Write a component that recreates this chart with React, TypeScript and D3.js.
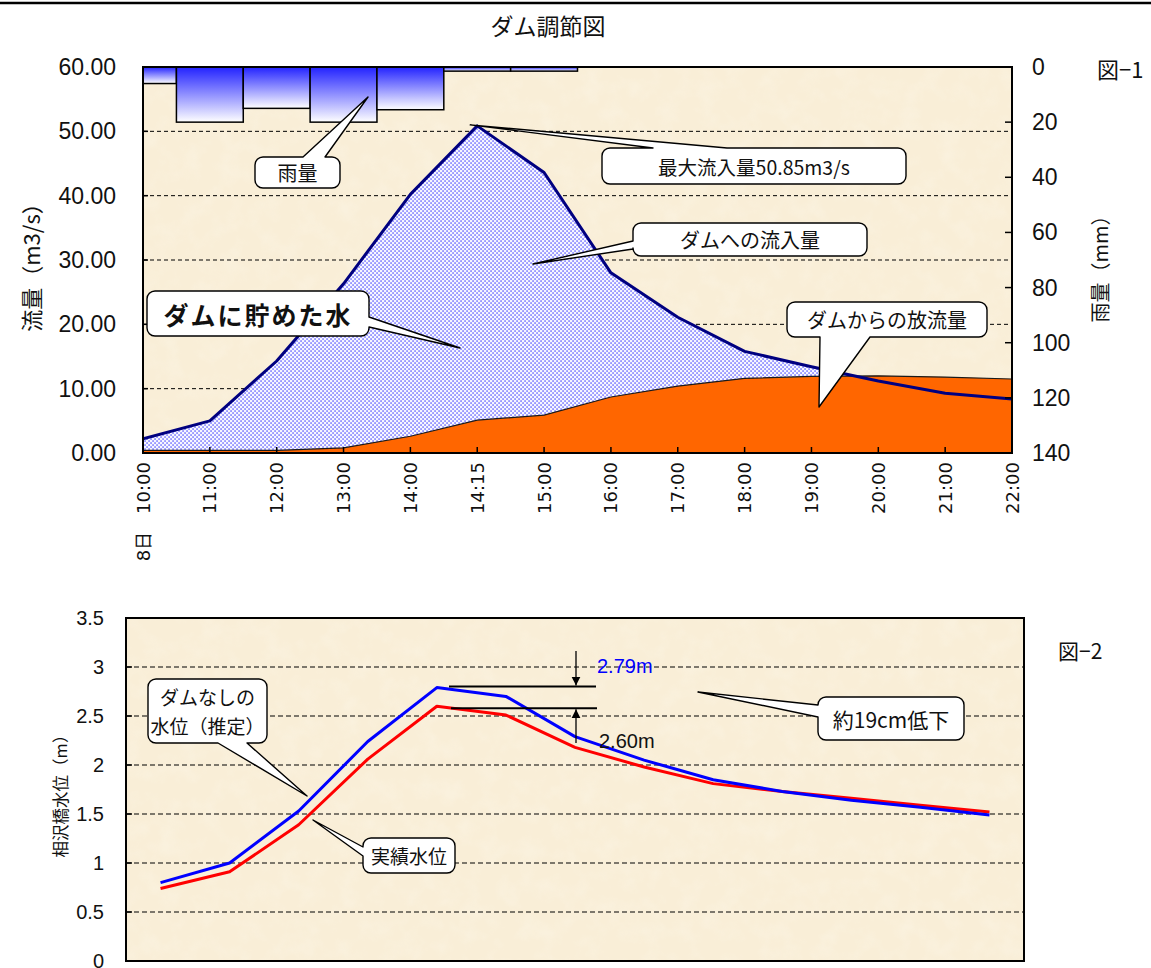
import React, { useEffect } from "react";
import * as d3 from "d3";

const W = 1151;
const H = 968;

// ---- 図-1: flow and rainfall -------------------------------------------
const flowLabels = ["8日　10:00", "11:00", "12:00", "13:00", "14:00", "14:15", "15:00", "16:00", "17:00", "18:00", "19:00", "20:00", "21:00", "22:00"];
const inflow = [2.2, 5.0, 14.3, 26.3, 40.2, 50.85, 43.6, 28.0, 21.1, 15.8, 13.4, 11.2, 9.3, 8.4];
const outflow = [0.4, 0.4, 0.4, 0.8, 2.6, 5.1, 5.9, 8.7, 10.4, 11.6, 11.9, 12.0, 11.8, 11.5];
const rainfall = [6, 20, 15, 20, 15.5, 1.5, 1.5, 0, 0, 0, 0, 0, 0, 0];
const flowTicks = [0, 10, 20, 30, 40, 50, 60];
const rainTicks = [0, 20, 40, 60, 80, 100, 120, 140];

// ---- 図-2: water level at 相沢橋 ----------------------------------------
const levelHours = ["10:00", "11:00", "12:00", "13:00", "14:00", "15:00", "16:00", "17:00", "18:00", "19:00", "20:00", "21:00", "22:00"];
const levelNoDam = [0.8, 1.0, 1.53, 2.24, 2.79, 2.7, 2.29, 2.05, 1.85, 1.73, 1.64, 1.57, 1.49];
const levelActual = [0.74, 0.91, 1.39, 2.06, 2.6, 2.51, 2.18, 1.98, 1.81, 1.73, 1.66, 1.59, 1.52];
const levelTicks = [0, 0.5, 1, 1.5, 2, 2.5, 3, 3.5];

const JP = "'Noto Sans CJK JP', 'Noto Sans', sans-serif";
const NUM = "'Liberation Sans', Arial, 'Noto Sans CJK JP', sans-serif";
const XLAB = "'DejaVu Sans', 'Noto Sans CJK JP', sans-serif";
const PAPER = "#f9eed7";

type Side = "top" | "right" | "bottom" | "left";

// rounded balloon with a wedge pointer on one side
function balloon(x: number, y: number, w: number, h: number, r: number, side: Side, b1: number, b2: number, tx: number, ty: number) {
  const p = d3.path();
  p.moveTo(x + r, y);
  if (side === "top") { p.lineTo(x + b1, y); p.lineTo(tx, ty); p.lineTo(x + b2, y); }
  p.lineTo(x + w - r, y);
  p.arcTo(x + w, y, x + w, y + r, r);
  if (side === "right") { p.lineTo(x + w, y + b1); p.lineTo(tx, ty); p.lineTo(x + w, y + b2); }
  p.lineTo(x + w, y + h - r);
  p.arcTo(x + w, y + h, x + w - r, y + h, r);
  if (side === "bottom") { p.lineTo(x + b2, y + h); p.lineTo(tx, ty); p.lineTo(x + b1, y + h); }
  p.lineTo(x + r, y + h);
  p.arcTo(x, y + h, x, y + h - r, r);
  if (side === "left") { p.lineTo(x, y + b2); p.lineTo(tx, ty); p.lineTo(x, y + b1); }
  p.lineTo(x, y + r);
  p.arcTo(x, y, x + r, y, r);
  p.closePath();
  return p.toString();
}

type BalloonProps = {
  x: number; y: number; w: number; h: number; side: Side; b1: number; b2: number; tx: number; ty: number;
  lines: string[]; size: number; bold?: boolean; spacing?: number; lineHeight?: number;
};

function Balloon({ x, y, w, h, side, b1, b2, tx, ty, lines, size, bold, spacing, lineHeight }: BalloonProps) {
  const lh = size * (lineHeight ?? 1.25);
  const y0 = y + h / 2 - ((lines.length - 1) * lh) / 2;
  return (
    <g>
      <path d={balloon(x, y, w, h, 8, side, b1, b2, tx, ty)} fill="#fff" stroke="#000" strokeWidth={1.4} strokeLinejoin="round" />
      {lines.map((t, i) => (
        <text key={i} x={x + w / 2} y={y0 + i * lh} textAnchor="middle" dominantBaseline="central"
          fontFamily={JP} fontSize={size} fontWeight={bold ? 700 : 400} letterSpacing={spacing ?? 0} fill="#111">
          {t}
        </text>
      ))}
    </g>
  );
}

export default function App() {
  useEffect(() => {
    document.body.style.margin = "0";
  }, []);

  // ---- top chart geometry
  const L1 = 143, R1 = 1012, T1 = 67, B1 = 453;
  const x1 = d3.scalePoint<string>().domain(flowLabels).range([L1, R1]);
  const yFlow = d3.scaleLinear().domain([0, 60]).range([B1, T1]);
  const yRain = d3.scaleLinear().domain([0, 140]).range([T1, B1]);
  const step = x1.step();

  const inflowArea = d3.area<number>()
    .x((_, i) => x1(flowLabels[i])!)
    .y0(yFlow(0))
    .y1((d) => yFlow(d))(inflow)!;
  const inflowLine = d3.line<number>()
    .x((_, i) => x1(flowLabels[i])!)
    .y((d) => yFlow(d))(inflow)!;
  const outflowArea = d3.area<number>()
    .x((_, i) => x1(flowLabels[i])!)
    .y0(yFlow(0))
    .y1((d) => yFlow(d))(outflow)!;
  const outflowLine = d3.line<number>()
    .x((_, i) => x1(flowLabels[i])!)
    .y((d) => yFlow(d))(outflow)!;

  // ---- bottom chart geometry
  const L2 = 126, R2 = 1024, T2 = 618, B2 = 961;
  const x2 = d3.scaleBand<string>().domain(levelHours).range([L2, R2]);
  const cx2 = (h: string) => x2(h)! + x2.bandwidth() / 2;
  const yLev = d3.scaleLinear().domain([0, 3.5]).range([B2, T2]);
  const levelLine = d3.line<number>()
    .x((_, i) => cx2(levelHours[i]))
    .y((d) => yLev(d));

  const peakIdx = levelNoDam.indexOf(d3.max(levelNoDam)!);
  const peakNoDam = levelNoDam[peakIdx];
  const peakActual = levelActual[peakIdx];
  const yHi = yLev(peakNoDam);
  const yLo = yLev(peakActual);
  const arrowX = 576;

  const maxIn = d3.max(inflow)!;
  const maxInIdx = inflow.indexOf(maxIn);

  return (
    <div style={{ position: "absolute", left: 0, top: 0, width: W, height: H, overflow: "hidden", background: "#fff" }}>
      <svg width={W} height={H} viewBox={`0 0 ${W} ${H}`} style={{ display: "block" }}>
        <defs>
          <pattern id="dots" width="4" height="4" patternUnits="userSpaceOnUse">
            <rect width="4" height="4" fill="#f7f7ff" />
            <rect x="0.4" y="0.4" width="1.3" height="1.3" fill="#3535ff" />
            <rect x="2.4" y="2.4" width="1.3" height="1.3" fill="#3535ff" />
          </pattern>
          <linearGradient id="rainGrad" x1="0" y1="0" x2="0" y2="1">
            <stop offset="0" stopColor="#2222ff" />
            <stop offset="1" stopColor="#ffffff" />
          </linearGradient>
          <filter id="paper" x="0" y="0" width="100%" height="100%">
            <feTurbulence type="fractalNoise" baseFrequency="0.05" numOctaves="3" seed="7" result="n" />
            <feColorMatrix in="n" type="matrix"
              values="0 0 0 0 1  0 0 0 0 1  0 0 0 0 0.96  0.9 0 0 0 -0.38" />
          </filter>
          <clipPath id="plot1"><rect x={L1} y={T1} width={R1 - L1} height={B1 - T1} /></clipPath>
          <clipPath id="plot2"><rect x={L2} y={T2} width={R2 - L2} height={B2 - T2} /></clipPath>
          <marker id="ah" viewBox="0 0 10 10" refX="10" refY="5" markerWidth="9" markerHeight="10" orient="auto" markerUnits="userSpaceOnUse">
            <path d="M0,0 L10,5 L0,10 Z" fill="#000" />
          </marker>
        </defs>

        {/* page rule and title */}
        <line x1={0} x2={W} y1={3} y2={3} stroke="#000" strokeWidth={2.5} />
        <text x={548} y={25} textAnchor="middle" dominantBaseline="central" fontFamily={JP} fontSize={23} fill="#111">ダム調節図</text>
        <text x={1097} y={68} dominantBaseline="central" fontFamily={JP} fontSize={22} fill="#111">図−1</text>

        {/* ================= 図-1 ================= */}
        <rect x={L1} y={T1} width={R1 - L1} height={B1 - T1} fill={PAPER} />
        <rect x={L1} y={T1} width={R1 - L1} height={B1 - T1} filter="url(#paper)" opacity={0.45} />

        {flowTicks.filter((t) => t > 0).map((t) => (
          <line key={t} x1={L1} x2={R1} y1={yFlow(t)} y2={yFlow(t)} stroke="#000" strokeWidth={1} strokeDasharray="4,3" />
        ))}

        <g clipPath="url(#plot1)">
          <path d={inflowArea} fill="url(#dots)" />
          <path d={outflowArea} fill="#ff6600" />
          <path d={outflowLine} fill="none" stroke="#1a1a1a" strokeWidth={1.2} />
          <path d={inflowLine} fill="none" stroke="#000080" strokeWidth={3} strokeLinejoin="round" />
          {rainfall.map((r, i) => r > 0 && (
            <rect key={i} x={x1(flowLabels[i])! - step / 2} y={yRain(0)} width={step} height={yRain(r) - yRain(0)}
              fill="url(#rainGrad)" stroke="#000" strokeWidth={1.5} />
          ))}
        </g>

        {/* frame and ticks */}
        <rect x={L1} y={T1} width={R1 - L1} height={B1 - T1} fill="none" stroke="#000" strokeWidth={2} />
        {flowTicks.map((t) => (
          <g key={t}>
            <line x1={L1} x2={L1 + 5} y1={yFlow(t)} y2={yFlow(t)} stroke="#000" strokeWidth={1.5} />
            <text x={116} y={yFlow(t)} textAnchor="end" dominantBaseline="central" fontFamily={NUM} fontSize={23} fill="#111">
              {d3.format(".2f")(t)}
            </text>
          </g>
        ))}
        {rainTicks.map((t) => (
          <g key={t}>
            <line x1={R1 - 7} x2={R1} y1={yRain(t)} y2={yRain(t)} stroke="#000" strokeWidth={1.5} />
            <text x={1032} y={yRain(t)} textAnchor="start" dominantBaseline="central" fontFamily={NUM} fontSize={23} fill="#111">{t}</text>
          </g>
        ))}
        {flowLabels.map((l) => (
          <g key={l}>
            <line x1={x1(l)!} x2={x1(l)!} y1={B1} y2={B1 - 6} stroke="#000" strokeWidth={1.5} />
            <text transform={`translate(${x1(l)!},462) rotate(-90)`} textAnchor="end" dominantBaseline="central"
              fontFamily={XLAB} fontSize={18} fill="#111">{l}</text>
          </g>
        ))}
        <text transform="translate(30,262) rotate(-90)" textAnchor="middle" dominantBaseline="central" fontFamily={JP} fontSize={22} fill="#111">流量（m3/s）</text>
        <text transform="translate(1099,264) rotate(-90)" textAnchor="middle" dominantBaseline="central" fontFamily={JP} fontSize={20} fill="#111">雨量（mm）</text>

        {/* callouts */}
        <Balloon x={255} y={157} w={85} h={31} side="top" b1={48} b2={70} tx={368} ty={97} lines={["雨量"]} size={20} />
        <Balloon x={602} y={148} w={304} h={36} side="top" b1={51} b2={125}
          tx={x1(flowLabels[maxInIdx])! - 7} ty={yFlow(maxIn) - 1}
          lines={[`最大流入量${maxIn}m3/s`]} size={19.5} />
        <Balloon x={633} y={223} w={234} h={33} side="left" b1={18} b2={26} tx={533} ty={264} lines={["ダムへの流入量"]} size={20} />
        <Balloon x={147} y={291} w={222} h={45} side="right" b1={26} b2={36} tx={460} ty={348} lines={["ダムに貯めた水"]} size={25} bold spacing={2} />
        <Balloon x={787} y={302} w={200} h={35} side="bottom" b1={33} b2={83} tx={819} ty={407} lines={["ダムからの放流量"]} size={20} />

        {/* ================= 図-2 ================= */}
        <text x={1058} y={650} dominantBaseline="central" fontFamily={JP} fontSize={21} fill="#111">図−2</text>
        <rect x={L2} y={T2} width={R2 - L2} height={B2 - T2} fill={PAPER} />
        <rect x={L2} y={T2} width={R2 - L2} height={B2 - T2} filter="url(#paper)" opacity={0.45} />
        {levelTicks.filter((t) => t > 0 && t < 3.5).map((t) => (
          <line key={t} x1={L2} x2={R2} y1={yLev(t)} y2={yLev(t)} stroke="#000" strokeWidth={1.2} strokeDasharray="5,3" />
        ))}
        <g clipPath="url(#plot2)">
          <path d={levelLine(levelActual)!} fill="none" stroke="#ff0000" strokeWidth={3} strokeLinejoin="round" />
          <path d={levelLine(levelNoDam)!} fill="none" stroke="#0000ff" strokeWidth={3} strokeLinejoin="round" />
        </g>
        <rect x={L2} y={T2} width={R2 - L2} height={B2 - T2} fill="none" stroke="#000" strokeWidth={2} />
        {levelTicks.map((t) => (
          <g key={t}>
            <line x1={L2} x2={L2 + 6} y1={yLev(t)} y2={yLev(t)} stroke="#000" strokeWidth={1.5} />
            <text x={104} y={yLev(t)} textAnchor="end" dominantBaseline="central" fontFamily={NUM} fontSize={20} fill="#111">{t}</text>
          </g>
        ))}
        <text transform="translate(60,792) rotate(-90)" textAnchor="middle" dominantBaseline="central" fontFamily={JP} fontSize={16.5} fill="#111">相沢橋水位（m）</text>

        {/* peak difference markers */}
        <line x1={449} x2={596} y1={yHi - 1} y2={yHi - 1} stroke="#000" strokeWidth={2} />
        <line x1={451} x2={597} y1={yLo + 2} y2={yLo + 2} stroke="#000" strokeWidth={2} />
        <line x1={arrowX} x2={arrowX} y1={651} y2={yHi - 2} stroke="#000" strokeWidth={1.3} markerEnd="url(#ah)" />
        <line x1={arrowX} x2={arrowX} y1={743} y2={yLo + 3} stroke="#000" strokeWidth={1.3} markerEnd="url(#ah)" />
        <text x={597} y={666} dominantBaseline="central" fontFamily={NUM} fontSize={20} fill="#0000ff">{peakNoDam.toFixed(2)}m</text>
        <text x={599} y={741} dominantBaseline="central" fontFamily={NUM} fontSize={20} fill="#111">{peakActual.toFixed(2)}m</text>

        <Balloon x={148} y={679} w={119} h={64} side="bottom" b1={70} b2={99} tx={307} ty={796} lines={["ダムなしの", "水位（推定）"]} size={19} lineHeight={1.55} />
        <Balloon x={363} y={838} w={92} h={35} side="left" b1={9} b2={18} tx={313} ty={820} lines={["実績水位"]} size={19} />
        <Balloon x={818} y={697} w={146} h={43} side="left" b1={8} b2={20} tx={698} ty={692}
          lines={[`約${Math.round((peakNoDam - peakActual) * 100)}cm低下`]} size={21} />
      </svg>
    </div>
  );
}
